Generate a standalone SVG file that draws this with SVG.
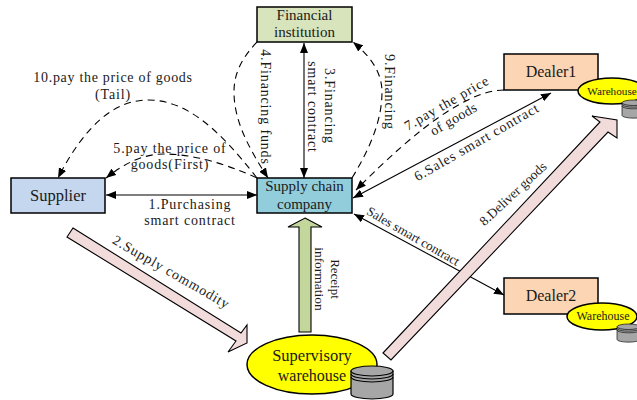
<svg xmlns="http://www.w3.org/2000/svg" width="637" height="400" viewBox="0 0 637 400">
<style>
text{font-family:"Liberation Serif","Times New Roman",serif;fill:#1a1a1a;font-size:14px;letter-spacing:.85px;text-anchor:middle}
.box{stroke:#000;stroke-width:1.5}
.dash{fill:none;stroke:#000;stroke-width:1.1;stroke-dasharray:7 5}
.ln{fill:none;stroke:#000;stroke-width:1.1}
.blk{stroke:#000;stroke-width:1.1}
.el{fill:#ffff00;stroke:#000;stroke-width:1.5}
.cyl{fill:#a6a6a6;stroke:#000;stroke-width:1.2}
.n{font-size:15px;letter-spacing:0}
.p{letter-spacing:0}
</style>
<defs>
<marker id="a" viewBox="0 0 10 8" refX="10" refY="4" markerWidth="10" markerHeight="8" markerUnits="userSpaceOnUse" orient="auto-start-reverse"><path d="M0 0L10 4L0 8Z" fill="#000"/></marker>
<g id="cylSym"><path class="cyl" d="M0 5V28A21 5 0 0 0 42 28V5Z"/><ellipse class="cyl" cx="21" cy="5" rx="21" ry="5"/><path class="ln" d="M0 8A21 5 0 0 0 42 8M0 11A21 5 0 0 0 42 11"/></g>
</defs>
<g id="connectors">
<path class="dash" d="M257 178C218 128 186 100 148 100C115 100 85 125 58 178" marker-end="url(#a)"/>
<path class="dash" d="M257 178C222 162 190 154 164 154C142 154 124 164 106 178" marker-end="url(#a)"/>
<path class="dash" d="M257 42C238 62 234 78 234 92C234 122 250 150 268 178" marker-end="url(#a)"/>
<path class="ln" d="M304 43V178" marker-start="url(#a)" marker-end="url(#a)"/>
<path class="dash" d="M352 178C372 145 382 118 382 92C382 72 370 56 353 42" marker-end="url(#a)"/>
<path class="dash" d="M504 90C470 90 420 125 356 190" marker-end="url(#a)"/>
<path class="ln" d="M551 93L353 198" marker-start="url(#a)" marker-end="url(#a)"/>
<path class="ln" d="M354 214L504 295" marker-start="url(#a)" marker-end="url(#a)"/>
<path class="ln" d="M106 195H257" marker-start="url(#a)" marker-end="url(#a)"/>
<polygon class="blk" fill="#f2dcdb" points="73,228 241,333 247,325 247,343 228,352 236,341 67,237"/>
<polygon class="blk" fill="#f2dcdb" points="383,353 600,122 592,116 617,120 617,138 608,132 391,360"/>
<polygon class="blk" fill="#c3d69b" points="305,218 322,227 311,227 311,332 299,332 299,227 288,227"/>
</g>
<g id="financial"><rect class="box" x="257" y="7" width="95" height="35" fill="#d8e4bc"/><text class="n" x="304.500" y="20">Financial</text><text class="n" x="304.500" y="37">institution</text></g>
<g id="supplier"><rect class="box" x="11" y="178" width="94" height="35" fill="#c5d7ee"/><text class="p" x="58" y="201" style="font-size:16.500px">Supplier</text></g>
<g id="supply-chain"><rect class="box" x="257" y="178" width="95" height="35" fill="#92cddc"/><text class="n" x="304.500" y="191">Supply chain</text><text class="n" x="304.500" y="209">company</text></g>
<g id="dealer1"><rect class="box" x="504" y="54" width="94" height="36" fill="#fcd5b5"/><text class="p" x="551" y="77" style="font-size:16px">Dealer1</text></g>
<g id="dealer2"><rect class="box" x="504" y="278" width="94" height="36" fill="#fcd5b5"/><text class="p" x="551" y="301" style="font-size:16px">Dealer2</text></g>
<g id="warehouse1"><ellipse class="el" cx="612" cy="91" rx="34" ry="13"/><text class="p" x="612" y="95" style="font-size:11.200px">Warehouse</text><use href="#cylSym" transform="translate(622 100) scale(.55)"/></g>
<g id="warehouse2"><ellipse class="el" cx="602" cy="316.500" rx="35" ry="13.500"/><text class="p" x="603" y="320" style="font-size:12px">Warehouse</text><use href="#cylSym" transform="translate(617 324) scale(.55)"/></g>
<g id="supervisory"><ellipse class="el" cx="312" cy="364.500" rx="65" ry="29.500"/><text class="p" x="312" y="361" style="font-size:16.500px">Supervisory</text><text class="p" x="312" y="381" style="font-size:16px">warehouse</text><use href="#cylSym" x="351" y="366"/></g>
<g id="labels">
<text x="113" y="82" style="letter-spacing:.7px">10.pay the price of goods</text><text x="113" y="99">(Tail)</text>
<text x="170" y="153">5.pay the price of</text><text x="170" y="169">goods(First)</text>
<text x="190" y="209">1.Purchasing</text><text x="190" y="225">smart contract</text>
<text transform="translate(261 107) rotate(90)">4.Financing funds</text>
<text transform="translate(325 106) rotate(90)">3.Financing</text>
<text transform="translate(308 107) rotate(90)">smart contract</text>
<text transform="translate(385 92) rotate(90)">9.Financing</text>
<text transform="translate(449 107) rotate(-30)">7.pay the price</text>
<text transform="translate(456 123) rotate(-30)" style="letter-spacing:.4px">of goods</text>
<text transform="translate(479 146) rotate(-30)">6.Sales smart contract</text>
<text class="p" transform="translate(516 197) rotate(-43)" style="font-size:13.500px">8.Deliver goods</text>
<text transform="translate(169 276) rotate(30)">2.Supply commodity</text>
<text class="p" transform="translate(411 240) rotate(30)" style="font-size:13px">Sales smart contract</text>
<text class="p" transform="translate(331 279) rotate(90)" style="font-size:13px">Receipt</text>
<text class="p" transform="translate(315 279) rotate(90)" style="font-size:13.500px">information</text>
</g>
</svg>
